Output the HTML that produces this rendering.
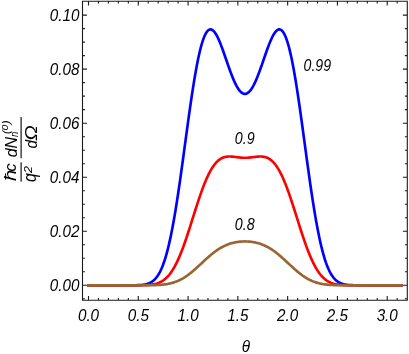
<!DOCTYPE html><html><head><meta charset="utf-8"><style>html,body{margin:0;padding:0;background:#fff}svg{display:block;will-change:transform}text{font-family:"Liberation Sans",sans-serif;font-style:italic;fill:#000}</style></head><body>
<svg width="409" height="354" viewBox="0 0 409 354">
<rect width="409" height="354" fill="#fff"/>
<path d="M88.51,285.30 L89.29,285.30 L90.08,285.30 L90.86,285.30 L91.65,285.30 L92.43,285.30 L93.21,285.30 L94.00,285.30 L94.78,285.30 L95.57,285.30 L96.35,285.30 L97.13,285.30 L97.92,285.30 L98.70,285.30 L99.48,285.30 L100.27,285.30 L101.05,285.30 L101.84,285.30 L102.62,285.30 L103.40,285.30 L104.19,285.30 L104.97,285.30 L105.76,285.30 L106.54,285.30 L107.32,285.30 L108.11,285.30 L108.89,285.30 L109.68,285.30 L110.46,285.30 L111.24,285.30 L112.03,285.30 L112.81,285.30 L113.60,285.30 L114.38,285.30 L115.16,285.30 L115.95,285.30 L116.73,285.30 L117.52,285.30 L118.30,285.30 L119.08,285.30 L119.87,285.30 L120.65,285.30 L121.44,285.30 L122.22,285.30 L123.00,285.30 L123.79,285.30 L124.57,285.30 L125.35,285.30 L126.14,285.30 L126.92,285.30 L127.71,285.30 L128.49,285.29 L129.27,285.29 L130.06,285.29 L130.84,285.29 L131.63,285.28 L132.41,285.27 L133.19,285.27 L133.98,285.26 L134.76,285.24 L135.55,285.23 L136.33,285.21 L137.11,285.19 L137.90,285.16 L138.68,285.12 L139.47,285.08 L140.25,285.03 L141.03,284.97 L141.82,284.90 L142.60,284.81 L143.39,284.70 L144.17,284.58 L144.95,284.44 L145.74,284.27 L146.52,284.08 L147.30,283.85 L148.09,283.59 L148.87,283.29 L149.66,282.95 L150.44,282.56 L151.22,282.12 L152.01,281.62 L152.79,281.05 L153.58,280.42 L154.36,279.70 L155.14,278.91 L155.93,278.03 L156.71,277.05 L157.50,275.97 L158.28,274.78 L159.06,273.47 L159.85,272.04 L160.63,270.48 L161.42,268.79 L162.20,266.95 L162.98,264.97 L163.77,262.83 L164.55,260.53 L165.34,258.06 L166.12,255.43 L166.90,252.63 L167.69,249.65 L168.47,246.50 L169.25,243.16 L170.04,239.65 L170.82,235.96 L171.61,232.09 L172.39,228.04 L173.17,223.83 L173.96,219.44 L174.74,214.89 L175.53,210.19 L176.31,205.33 L177.09,200.33 L177.88,195.20 L178.66,189.94 L179.45,184.57 L180.23,179.10 L181.01,173.55 L181.80,167.91 L182.58,162.21 L183.37,156.47 L184.15,150.69 L184.93,144.90 L185.72,139.10 L186.50,133.31 L187.29,127.55 L188.07,121.84 L188.85,116.19 L189.64,110.61 L190.42,105.12 L191.20,99.74 L191.99,94.48 L192.77,89.36 L193.56,84.38 L194.34,79.57 L195.12,74.93 L195.91,70.47 L196.69,66.21 L197.48,62.16 L198.26,58.32 L199.04,54.70 L199.83,51.31 L200.61,48.16 L201.40,45.25 L202.18,42.58 L202.96,40.15 L203.75,37.98 L204.53,36.05 L205.32,34.38 L206.10,32.95 L206.88,31.77 L207.67,30.82 L208.45,30.12 L209.24,29.65 L210.02,29.41 L210.80,29.39 L211.59,29.58 L212.37,29.98 L213.15,30.57 L213.94,31.35 L214.72,32.31 L215.51,33.44 L216.29,34.73 L217.07,36.16 L217.86,37.72 L218.64,39.42 L219.43,41.22 L220.21,43.12 L220.99,45.12 L221.78,47.18 L222.56,49.32 L223.35,51.50 L224.13,53.73 L224.91,55.98 L225.70,58.26 L226.48,60.54 L227.27,62.81 L228.05,65.07 L228.83,67.31 L229.62,69.50 L230.40,71.65 L231.19,73.75 L231.97,75.78 L232.75,77.74 L233.54,79.61 L234.32,81.40 L235.11,83.09 L235.89,84.68 L236.67,86.16 L237.46,87.52 L238.24,88.76 L239.02,89.87 L239.81,90.86 L240.59,91.71 L241.38,92.43 L242.16,93.00 L242.94,93.43 L243.73,93.72 L244.51,93.87 L245.30,93.87 L246.08,93.72 L246.86,93.43 L247.65,93.00 L248.43,92.43 L249.22,91.71 L250.00,90.86 L250.78,89.87 L251.57,88.76 L252.35,87.52 L253.14,86.16 L253.92,84.68 L254.70,83.09 L255.49,81.40 L256.27,79.61 L257.06,77.74 L257.84,75.78 L258.62,73.75 L259.41,71.65 L260.19,69.50 L260.97,67.31 L261.76,65.07 L262.54,62.81 L263.33,60.54 L264.11,58.26 L264.89,55.98 L265.68,53.73 L266.46,51.50 L267.25,49.32 L268.03,47.18 L268.81,45.12 L269.60,43.12 L270.38,41.22 L271.17,39.42 L271.95,37.72 L272.73,36.16 L273.52,34.73 L274.30,33.44 L275.09,32.31 L275.87,31.35 L276.65,30.57 L277.44,29.98 L278.22,29.58 L279.01,29.39 L279.79,29.41 L280.57,29.65 L281.36,30.12 L282.14,30.82 L282.92,31.77 L283.71,32.95 L284.49,34.38 L285.28,36.05 L286.06,37.98 L286.84,40.15 L287.63,42.58 L288.41,45.25 L289.20,48.16 L289.98,51.31 L290.76,54.70 L291.55,58.32 L292.33,62.16 L293.12,66.21 L293.90,70.47 L294.68,74.93 L295.47,79.57 L296.25,84.38 L297.04,89.36 L297.82,94.48 L298.60,99.74 L299.39,105.12 L300.17,110.61 L300.96,116.19 L301.74,121.84 L302.52,127.55 L303.31,133.31 L304.09,139.10 L304.87,144.90 L305.66,150.69 L306.44,156.47 L307.23,162.21 L308.01,167.91 L308.79,173.55 L309.58,179.10 L310.36,184.57 L311.15,189.94 L311.93,195.20 L312.71,200.33 L313.50,205.33 L314.28,210.19 L315.07,214.89 L315.85,219.44 L316.63,223.83 L317.42,228.04 L318.20,232.09 L318.99,235.96 L319.77,239.65 L320.55,243.16 L321.34,246.50 L322.12,249.65 L322.91,252.63 L323.69,255.43 L324.47,258.06 L325.26,260.53 L326.04,262.83 L326.82,264.97 L327.61,266.95 L328.39,268.79 L329.18,270.48 L329.96,272.04 L330.74,273.47 L331.53,274.78 L332.31,275.97 L333.10,277.05 L333.88,278.03 L334.66,278.91 L335.45,279.70 L336.23,280.42 L337.02,281.05 L337.80,281.62 L338.58,282.12 L339.37,282.56 L340.15,282.95 L340.94,283.29 L341.72,283.59 L342.50,283.85 L343.29,284.08 L344.07,284.27 L344.86,284.44 L345.64,284.58 L346.42,284.70 L347.21,284.81 L347.99,284.90 L348.78,284.97 L349.56,285.03 L350.34,285.08 L351.13,285.12 L351.91,285.16 L352.69,285.19 L353.48,285.21 L354.26,285.23 L355.05,285.24 L355.83,285.26 L356.61,285.27 L357.40,285.27 L358.18,285.28 L358.97,285.29 L359.75,285.29 L360.53,285.29 L361.32,285.29 L362.10,285.30 L362.89,285.30 L363.67,285.30 L364.45,285.30 L365.24,285.30 L366.02,285.30 L366.81,285.30 L367.59,285.30 L368.37,285.30 L369.16,285.30 L369.94,285.30 L370.73,285.30 L371.51,285.30 L372.29,285.30 L373.08,285.30 L373.86,285.30 L374.64,285.30 L375.43,285.30 L376.21,285.30 L377.00,285.30 L377.78,285.30 L378.56,285.30 L379.35,285.30 L380.13,285.30 L380.92,285.30 L381.70,285.30 L382.48,285.30 L383.27,285.30 L384.05,285.30 L384.84,285.30 L385.62,285.30 L386.40,285.30 L387.19,285.30 L387.97,285.30 L388.76,285.30 L389.54,285.30 L390.32,285.30 L391.11,285.30 L391.89,285.30 L392.68,285.30 L393.46,285.30 L394.24,285.30 L395.03,285.30 L395.81,285.30 L396.59,285.30 L397.38,285.30 L398.16,285.30 L398.95,285.30 L399.73,285.30 L400.51,285.30 L401.30,285.30" fill="none" stroke="#0000ff" stroke-width="2.65" stroke-linecap="square" stroke-linejoin="round"/>
<path d="M88.51,285.30 L89.29,285.30 L90.08,285.30 L90.86,285.30 L91.65,285.30 L92.43,285.30 L93.21,285.30 L94.00,285.30 L94.78,285.30 L95.57,285.30 L96.35,285.30 L97.13,285.30 L97.92,285.30 L98.70,285.30 L99.48,285.30 L100.27,285.30 L101.05,285.30 L101.84,285.30 L102.62,285.30 L103.40,285.30 L104.19,285.30 L104.97,285.30 L105.76,285.30 L106.54,285.30 L107.32,285.30 L108.11,285.30 L108.89,285.30 L109.68,285.30 L110.46,285.30 L111.24,285.30 L112.03,285.30 L112.81,285.30 L113.60,285.30 L114.38,285.30 L115.16,285.30 L115.95,285.30 L116.73,285.30 L117.52,285.30 L118.30,285.30 L119.08,285.30 L119.87,285.30 L120.65,285.30 L121.44,285.30 L122.22,285.30 L123.00,285.30 L123.79,285.30 L124.57,285.30 L125.35,285.30 L126.14,285.30 L126.92,285.30 L127.71,285.30 L128.49,285.30 L129.27,285.30 L130.06,285.30 L130.84,285.30 L131.63,285.30 L132.41,285.30 L133.19,285.29 L133.98,285.29 L134.76,285.29 L135.55,285.29 L136.33,285.28 L137.11,285.28 L137.90,285.27 L138.68,285.27 L139.47,285.26 L140.25,285.25 L141.03,285.24 L141.82,285.22 L142.60,285.21 L143.39,285.19 L144.17,285.16 L144.95,285.13 L145.74,285.10 L146.52,285.06 L147.30,285.01 L148.09,284.96 L148.87,284.90 L149.66,284.82 L150.44,284.74 L151.22,284.65 L152.01,284.54 L152.79,284.41 L153.58,284.27 L154.36,284.11 L155.14,283.93 L155.93,283.73 L156.71,283.51 L157.50,283.25 L158.28,282.97 L159.06,282.66 L159.85,282.32 L160.63,281.94 L161.42,281.52 L162.20,281.06 L162.98,280.56 L163.77,280.02 L164.55,279.43 L165.34,278.78 L166.12,278.09 L166.90,277.34 L167.69,276.53 L168.47,275.66 L169.25,274.74 L170.04,273.75 L170.82,272.69 L171.61,271.57 L172.39,270.38 L173.17,269.13 L173.96,267.80 L174.74,266.41 L175.53,264.94 L176.31,263.41 L177.09,261.80 L177.88,260.13 L178.66,258.39 L179.45,256.58 L180.23,254.71 L181.01,252.77 L181.80,250.77 L182.58,248.71 L183.37,246.60 L184.15,244.43 L184.93,242.21 L185.72,239.95 L186.50,237.64 L187.29,235.29 L188.07,232.91 L188.85,230.50 L189.64,228.07 L190.42,225.61 L191.20,223.14 L191.99,220.66 L192.77,218.17 L193.56,215.69 L194.34,213.20 L195.12,210.73 L195.91,208.27 L196.69,205.83 L197.48,203.42 L198.26,201.04 L199.04,198.69 L199.83,196.38 L200.61,194.12 L201.40,191.90 L202.18,189.73 L202.96,187.62 L203.75,185.57 L204.53,183.58 L205.32,181.65 L206.10,179.80 L206.88,178.01 L207.67,176.29 L208.45,174.65 L209.24,173.08 L210.02,171.59 L210.80,170.18 L211.59,168.84 L212.37,167.58 L213.15,166.40 L213.94,165.29 L214.72,164.26 L215.51,163.30 L216.29,162.42 L217.07,161.61 L217.86,160.87 L218.64,160.20 L219.43,159.60 L220.21,159.06 L220.99,158.58 L221.78,158.16 L222.56,157.80 L223.35,157.49 L224.13,157.22 L224.91,157.01 L225.70,156.84 L226.48,156.70 L227.27,156.61 L228.05,156.55 L228.83,156.51 L229.62,156.51 L230.40,156.53 L231.19,156.57 L231.97,156.62 L232.75,156.69 L233.54,156.77 L234.32,156.86 L235.11,156.96 L235.89,157.05 L236.67,157.15 L237.46,157.25 L238.24,157.34 L239.02,157.43 L239.81,157.51 L240.59,157.59 L241.38,157.65 L242.16,157.70 L242.94,157.74 L243.73,157.76 L244.51,157.78 L245.30,157.78 L246.08,157.76 L246.86,157.74 L247.65,157.70 L248.43,157.65 L249.22,157.59 L250.00,157.51 L250.78,157.43 L251.57,157.34 L252.35,157.25 L253.14,157.15 L253.92,157.05 L254.70,156.96 L255.49,156.86 L256.27,156.77 L257.06,156.69 L257.84,156.62 L258.62,156.57 L259.41,156.53 L260.19,156.51 L260.97,156.51 L261.76,156.55 L262.54,156.61 L263.33,156.70 L264.11,156.84 L264.89,157.01 L265.68,157.22 L266.46,157.49 L267.25,157.80 L268.03,158.16 L268.81,158.58 L269.60,159.06 L270.38,159.60 L271.17,160.20 L271.95,160.87 L272.73,161.61 L273.52,162.42 L274.30,163.30 L275.09,164.26 L275.87,165.29 L276.65,166.40 L277.44,167.58 L278.22,168.84 L279.01,170.18 L279.79,171.59 L280.57,173.08 L281.36,174.65 L282.14,176.29 L282.92,178.01 L283.71,179.80 L284.49,181.65 L285.28,183.58 L286.06,185.57 L286.84,187.62 L287.63,189.73 L288.41,191.90 L289.20,194.12 L289.98,196.38 L290.76,198.69 L291.55,201.04 L292.33,203.42 L293.12,205.83 L293.90,208.27 L294.68,210.73 L295.47,213.20 L296.25,215.69 L297.04,218.17 L297.82,220.66 L298.60,223.14 L299.39,225.61 L300.17,228.07 L300.96,230.50 L301.74,232.91 L302.52,235.29 L303.31,237.64 L304.09,239.95 L304.87,242.21 L305.66,244.43 L306.44,246.60 L307.23,248.71 L308.01,250.77 L308.79,252.77 L309.58,254.71 L310.36,256.58 L311.15,258.39 L311.93,260.13 L312.71,261.80 L313.50,263.41 L314.28,264.94 L315.07,266.41 L315.85,267.80 L316.63,269.13 L317.42,270.38 L318.20,271.57 L318.99,272.69 L319.77,273.75 L320.55,274.74 L321.34,275.66 L322.12,276.53 L322.91,277.34 L323.69,278.09 L324.47,278.78 L325.26,279.43 L326.04,280.02 L326.82,280.56 L327.61,281.06 L328.39,281.52 L329.18,281.94 L329.96,282.32 L330.74,282.66 L331.53,282.97 L332.31,283.25 L333.10,283.51 L333.88,283.73 L334.66,283.93 L335.45,284.11 L336.23,284.27 L337.02,284.41 L337.80,284.54 L338.58,284.65 L339.37,284.74 L340.15,284.82 L340.94,284.90 L341.72,284.96 L342.50,285.01 L343.29,285.06 L344.07,285.10 L344.86,285.13 L345.64,285.16 L346.42,285.19 L347.21,285.21 L347.99,285.22 L348.78,285.24 L349.56,285.25 L350.34,285.26 L351.13,285.27 L351.91,285.27 L352.69,285.28 L353.48,285.28 L354.26,285.29 L355.05,285.29 L355.83,285.29 L356.61,285.29 L357.40,285.30 L358.18,285.30 L358.97,285.30 L359.75,285.30 L360.53,285.30 L361.32,285.30 L362.10,285.30 L362.89,285.30 L363.67,285.30 L364.45,285.30 L365.24,285.30 L366.02,285.30 L366.81,285.30 L367.59,285.30 L368.37,285.30 L369.16,285.30 L369.94,285.30 L370.73,285.30 L371.51,285.30 L372.29,285.30 L373.08,285.30 L373.86,285.30 L374.64,285.30 L375.43,285.30 L376.21,285.30 L377.00,285.30 L377.78,285.30 L378.56,285.30 L379.35,285.30 L380.13,285.30 L380.92,285.30 L381.70,285.30 L382.48,285.30 L383.27,285.30 L384.05,285.30 L384.84,285.30 L385.62,285.30 L386.40,285.30 L387.19,285.30 L387.97,285.30 L388.76,285.30 L389.54,285.30 L390.32,285.30 L391.11,285.30 L391.89,285.30 L392.68,285.30 L393.46,285.30 L394.24,285.30 L395.03,285.30 L395.81,285.30 L396.59,285.30 L397.38,285.30 L398.16,285.30 L398.95,285.30 L399.73,285.30 L400.51,285.30 L401.30,285.30" fill="none" stroke="#ff0000" stroke-width="2.65" stroke-linecap="square" stroke-linejoin="round"/>
<path d="M88.51,285.30 L89.29,285.30 L90.08,285.30 L90.86,285.30 L91.65,285.30 L92.43,285.30 L93.21,285.30 L94.00,285.30 L94.78,285.30 L95.57,285.30 L96.35,285.30 L97.13,285.30 L97.92,285.30 L98.70,285.30 L99.48,285.30 L100.27,285.30 L101.05,285.30 L101.84,285.30 L102.62,285.30 L103.40,285.30 L104.19,285.30 L104.97,285.30 L105.76,285.30 L106.54,285.30 L107.32,285.30 L108.11,285.30 L108.89,285.30 L109.68,285.30 L110.46,285.30 L111.24,285.30 L112.03,285.30 L112.81,285.30 L113.60,285.30 L114.38,285.30 L115.16,285.30 L115.95,285.30 L116.73,285.30 L117.52,285.30 L118.30,285.30 L119.08,285.30 L119.87,285.30 L120.65,285.30 L121.44,285.30 L122.22,285.30 L123.00,285.30 L123.79,285.30 L124.57,285.30 L125.35,285.30 L126.14,285.30 L126.92,285.30 L127.71,285.30 L128.49,285.30 L129.27,285.30 L130.06,285.30 L130.84,285.30 L131.63,285.30 L132.41,285.30 L133.19,285.30 L133.98,285.30 L134.76,285.30 L135.55,285.30 L136.33,285.30 L137.11,285.30 L137.90,285.30 L138.68,285.30 L139.47,285.30 L140.25,285.29 L141.03,285.29 L141.82,285.29 L142.60,285.29 L143.39,285.29 L144.17,285.28 L144.95,285.28 L145.74,285.28 L146.52,285.27 L147.30,285.26 L148.09,285.26 L148.87,285.25 L149.66,285.24 L150.44,285.23 L151.22,285.21 L152.01,285.20 L152.79,285.18 L153.58,285.16 L154.36,285.14 L155.14,285.11 L155.93,285.09 L156.71,285.05 L157.50,285.02 L158.28,284.97 L159.06,284.93 L159.85,284.88 L160.63,284.82 L161.42,284.75 L162.20,284.68 L162.98,284.60 L163.77,284.52 L164.55,284.42 L165.34,284.32 L166.12,284.20 L166.90,284.08 L167.69,283.94 L168.47,283.79 L169.25,283.63 L170.04,283.46 L170.82,283.28 L171.61,283.08 L172.39,282.86 L173.17,282.63 L173.96,282.39 L174.74,282.12 L175.53,281.85 L176.31,281.55 L177.09,281.24 L177.88,280.91 L178.66,280.56 L179.45,280.19 L180.23,279.81 L181.01,279.40 L181.80,278.98 L182.58,278.54 L183.37,278.08 L184.15,277.60 L184.93,277.10 L185.72,276.59 L186.50,276.06 L187.29,275.51 L188.07,274.94 L188.85,274.36 L189.64,273.76 L190.42,273.14 L191.20,272.51 L191.99,271.87 L192.77,271.21 L193.56,270.55 L194.34,269.87 L195.12,269.18 L195.91,268.48 L196.69,267.78 L197.48,267.06 L198.26,266.34 L199.04,265.62 L199.83,264.89 L200.61,264.16 L201.40,263.43 L202.18,262.70 L202.96,261.97 L203.75,261.24 L204.53,260.52 L205.32,259.80 L206.10,259.09 L206.88,258.38 L207.67,257.68 L208.45,256.99 L209.24,256.31 L210.02,255.63 L210.80,254.97 L211.59,254.33 L212.37,253.69 L213.15,253.07 L213.94,252.46 L214.72,251.87 L215.51,251.29 L216.29,250.73 L217.07,250.19 L217.86,249.66 L218.64,249.15 L219.43,248.66 L220.21,248.18 L220.99,247.72 L221.78,247.28 L222.56,246.86 L223.35,246.45 L224.13,246.07 L224.91,245.70 L225.70,245.34 L226.48,245.01 L227.27,244.69 L228.05,244.39 L228.83,244.10 L229.62,243.83 L230.40,243.58 L231.19,243.34 L231.97,243.12 L232.75,242.92 L233.54,242.73 L234.32,242.55 L235.11,242.39 L235.89,242.24 L236.67,242.10 L237.46,241.98 L238.24,241.87 L239.02,241.77 L239.81,241.69 L240.59,241.62 L241.38,241.56 L242.16,241.51 L242.94,241.48 L243.73,241.45 L244.51,241.44 L245.30,241.44 L246.08,241.45 L246.86,241.48 L247.65,241.51 L248.43,241.56 L249.22,241.62 L250.00,241.69 L250.78,241.77 L251.57,241.87 L252.35,241.98 L253.14,242.10 L253.92,242.24 L254.70,242.39 L255.49,242.55 L256.27,242.73 L257.06,242.92 L257.84,243.12 L258.62,243.34 L259.41,243.58 L260.19,243.83 L260.97,244.10 L261.76,244.39 L262.54,244.69 L263.33,245.01 L264.11,245.34 L264.89,245.70 L265.68,246.07 L266.46,246.45 L267.25,246.86 L268.03,247.28 L268.81,247.72 L269.60,248.18 L270.38,248.66 L271.17,249.15 L271.95,249.66 L272.73,250.19 L273.52,250.73 L274.30,251.29 L275.09,251.87 L275.87,252.46 L276.65,253.07 L277.44,253.69 L278.22,254.33 L279.01,254.97 L279.79,255.63 L280.57,256.31 L281.36,256.99 L282.14,257.68 L282.92,258.38 L283.71,259.09 L284.49,259.80 L285.28,260.52 L286.06,261.24 L286.84,261.97 L287.63,262.70 L288.41,263.43 L289.20,264.16 L289.98,264.89 L290.76,265.62 L291.55,266.34 L292.33,267.06 L293.12,267.78 L293.90,268.48 L294.68,269.18 L295.47,269.87 L296.25,270.55 L297.04,271.21 L297.82,271.87 L298.60,272.51 L299.39,273.14 L300.17,273.76 L300.96,274.36 L301.74,274.94 L302.52,275.51 L303.31,276.06 L304.09,276.59 L304.87,277.10 L305.66,277.60 L306.44,278.08 L307.23,278.54 L308.01,278.98 L308.79,279.40 L309.58,279.81 L310.36,280.19 L311.15,280.56 L311.93,280.91 L312.71,281.24 L313.50,281.55 L314.28,281.85 L315.07,282.12 L315.85,282.39 L316.63,282.63 L317.42,282.86 L318.20,283.08 L318.99,283.28 L319.77,283.46 L320.55,283.63 L321.34,283.79 L322.12,283.94 L322.91,284.08 L323.69,284.20 L324.47,284.32 L325.26,284.42 L326.04,284.52 L326.82,284.60 L327.61,284.68 L328.39,284.75 L329.18,284.82 L329.96,284.88 L330.74,284.93 L331.53,284.97 L332.31,285.02 L333.10,285.05 L333.88,285.09 L334.66,285.11 L335.45,285.14 L336.23,285.16 L337.02,285.18 L337.80,285.20 L338.58,285.21 L339.37,285.23 L340.15,285.24 L340.94,285.25 L341.72,285.26 L342.50,285.26 L343.29,285.27 L344.07,285.28 L344.86,285.28 L345.64,285.28 L346.42,285.29 L347.21,285.29 L347.99,285.29 L348.78,285.29 L349.56,285.29 L350.34,285.30 L351.13,285.30 L351.91,285.30 L352.69,285.30 L353.48,285.30 L354.26,285.30 L355.05,285.30 L355.83,285.30 L356.61,285.30 L357.40,285.30 L358.18,285.30 L358.97,285.30 L359.75,285.30 L360.53,285.30 L361.32,285.30 L362.10,285.30 L362.89,285.30 L363.67,285.30 L364.45,285.30 L365.24,285.30 L366.02,285.30 L366.81,285.30 L367.59,285.30 L368.37,285.30 L369.16,285.30 L369.94,285.30 L370.73,285.30 L371.51,285.30 L372.29,285.30 L373.08,285.30 L373.86,285.30 L374.64,285.30 L375.43,285.30 L376.21,285.30 L377.00,285.30 L377.78,285.30 L378.56,285.30 L379.35,285.30 L380.13,285.30 L380.92,285.30 L381.70,285.30 L382.48,285.30 L383.27,285.30 L384.05,285.30 L384.84,285.30 L385.62,285.30 L386.40,285.30 L387.19,285.30 L387.97,285.30 L388.76,285.30 L389.54,285.30 L390.32,285.30 L391.11,285.30 L391.89,285.30 L392.68,285.30 L393.46,285.30 L394.24,285.30 L395.03,285.30 L395.81,285.30 L396.59,285.30 L397.38,285.30 L398.16,285.30 L398.95,285.30 L399.73,285.30 L400.51,285.30 L401.30,285.30" fill="none" stroke="#996633" stroke-width="2.65" stroke-linecap="square" stroke-linejoin="round"/>
<path d="M82.50,1.20 H407.30 V300.30 H82.50 Z M88.50,300.30 v-4.40 M88.50,1.20 v4.40 M98.46,300.30 v-2.40 M98.46,1.20 v2.40 M108.41,300.30 v-2.40 M108.41,1.20 v2.40 M118.37,300.30 v-2.40 M118.37,1.20 v2.40 M128.33,300.30 v-2.40 M128.33,1.20 v2.40 M138.28,300.30 v-4.40 M138.28,1.20 v4.40 M148.24,300.30 v-2.40 M148.24,1.20 v2.40 M158.20,300.30 v-2.40 M158.20,1.20 v2.40 M168.16,300.30 v-2.40 M168.16,1.20 v2.40 M178.11,300.30 v-2.40 M178.11,1.20 v2.40 M188.07,300.30 v-4.40 M188.07,1.20 v4.40 M198.03,300.30 v-2.40 M198.03,1.20 v2.40 M207.98,300.30 v-2.40 M207.98,1.20 v2.40 M217.94,300.30 v-2.40 M217.94,1.20 v2.40 M227.90,300.30 v-2.40 M227.90,1.20 v2.40 M237.85,300.30 v-4.40 M237.85,1.20 v4.40 M247.81,300.30 v-2.40 M247.81,1.20 v2.40 M257.77,300.30 v-2.40 M257.77,1.20 v2.40 M267.73,300.30 v-2.40 M267.73,1.20 v2.40 M277.68,300.30 v-2.40 M277.68,1.20 v2.40 M287.64,300.30 v-4.40 M287.64,1.20 v4.40 M297.60,300.30 v-2.40 M297.60,1.20 v2.40 M307.55,300.30 v-2.40 M307.55,1.20 v2.40 M317.51,300.30 v-2.40 M317.51,1.20 v2.40 M327.47,300.30 v-2.40 M327.47,1.20 v2.40 M337.42,300.30 v-4.40 M337.42,1.20 v4.40 M347.38,300.30 v-2.40 M347.38,1.20 v2.40 M357.34,300.30 v-2.40 M357.34,1.20 v2.40 M367.30,300.30 v-2.40 M367.30,1.20 v2.40 M377.25,300.30 v-2.40 M377.25,1.20 v2.40 M387.21,300.30 v-4.40 M387.21,1.20 v4.40 M397.17,300.30 v-2.40 M397.17,1.20 v2.40 M82.50,298.81 h2.40 M407.30,298.81 h-2.40 M82.50,285.30 h4.40 M407.30,285.30 h-4.40 M82.50,271.79 h2.40 M407.30,271.79 h-2.40 M82.50,258.28 h2.40 M407.30,258.28 h-2.40 M82.50,244.77 h2.40 M407.30,244.77 h-2.40 M82.50,231.26 h4.40 M407.30,231.26 h-4.40 M82.50,217.75 h2.40 M407.30,217.75 h-2.40 M82.50,204.24 h2.40 M407.30,204.24 h-2.40 M82.50,190.73 h2.40 M407.30,190.73 h-2.40 M82.50,177.22 h4.40 M407.30,177.22 h-4.40 M82.50,163.71 h2.40 M407.30,163.71 h-2.40 M82.50,150.20 h2.40 M407.30,150.20 h-2.40 M82.50,136.69 h2.40 M407.30,136.69 h-2.40 M82.50,123.18 h4.40 M407.30,123.18 h-4.40 M82.50,109.67 h2.40 M407.30,109.67 h-2.40 M82.50,96.16 h2.40 M407.30,96.16 h-2.40 M82.50,82.65 h2.40 M407.30,82.65 h-2.40 M82.50,69.14 h4.40 M407.30,69.14 h-4.40 M82.50,55.63 h2.40 M407.30,55.63 h-2.40 M82.50,42.12 h2.40 M407.30,42.12 h-2.40 M82.50,28.61 h2.40 M407.30,28.61 h-2.40 M82.50,15.10 h4.40 M407.30,15.10 h-4.40" fill="none" stroke="#1a1a1a" stroke-width="1.1"/>
<text transform="translate(88.50,321.30) scale(0.875,1)" font-size="17.40" text-anchor="middle">0.0</text>
<text transform="translate(138.28,321.30) scale(0.875,1)" font-size="17.40" text-anchor="middle">0.5</text>
<text transform="translate(188.07,321.30) scale(0.875,1)" font-size="17.40" text-anchor="middle">1.0</text>
<text transform="translate(237.85,321.30) scale(0.875,1)" font-size="17.40" text-anchor="middle">1.5</text>
<text transform="translate(287.64,321.30) scale(0.875,1)" font-size="17.40" text-anchor="middle">2.0</text>
<text transform="translate(337.42,321.30) scale(0.875,1)" font-size="17.40" text-anchor="middle">2.5</text>
<text transform="translate(387.21,321.30) scale(0.875,1)" font-size="17.40" text-anchor="middle">3.0</text>
<text transform="translate(79.40,291.20) scale(0.875,1)" font-size="17.40" text-anchor="end">0.00</text>
<text transform="translate(79.40,237.16) scale(0.875,1)" font-size="17.40" text-anchor="end">0.02</text>
<text transform="translate(79.40,183.12) scale(0.875,1)" font-size="17.40" text-anchor="end">0.04</text>
<text transform="translate(79.40,129.08) scale(0.875,1)" font-size="17.40" text-anchor="end">0.06</text>
<text transform="translate(79.40,75.04) scale(0.875,1)" font-size="17.40" text-anchor="end">0.08</text>
<text transform="translate(79.40,21.00) scale(0.875,1)" font-size="17.40" text-anchor="end">0.10</text>
<text transform="translate(317.30,70.90) scale(0.840,1)" font-size="16.80" text-anchor="middle">0.99</text>
<text transform="translate(244.70,143.50) scale(0.840,1)" font-size="17.00" text-anchor="middle">0.9</text>
<text transform="translate(244.70,229.50) scale(0.840,1)" font-size="17.00" text-anchor="middle">0.8</text>
<text transform="translate(246.00,352.30) scale(0.900,1)" font-size="17.00" text-anchor="middle">θ</text>
<text transform="rotate(-90) translate(-181.00,15.90) scale(1.200,1)" font-size="17.00">ħ</text>
<text transform="rotate(-90) translate(-171.40,15.90) scale(0.950,1)" font-size="17.00">c</text>
<text transform="rotate(-90) translate(-181.90,36.40) scale(0.900,1)" font-size="17.50">q</text>
<text transform="rotate(-90) translate(-172.90,32.00) scale(1.250,1)" font-size="10.00">2</text>
<text transform="rotate(-90) translate(-157.30,17.00) scale(0.940,1)" font-size="17.00">dN</text>
<text transform="rotate(-90) translate(-137.00,18.40) scale(0.950,1)" font-size="10.00">n</text>
<text transform="rotate(-90) translate(-134.00,9.60) scale(1.000,1)" font-size="11.50">(</text>
<text transform="rotate(-90) translate(-130.40,8.20) scale(1.100,1)" font-size="9.50">0</text>
<text transform="rotate(-90) translate(-124.30,9.60) scale(1.000,1)" font-size="11.50">)</text>
<text transform="rotate(-90) translate(-148.50,36.70) scale(0.900,1)" font-size="17.00">d</text>
<text transform="rotate(-90) translate(-140.80,36.70) scale(1.200,1)" font-size="17.00">Ω</text>
<path d="M21.1,181.8 V162.2 M21.1,158.3 V116.9" stroke="#000" stroke-width="1.1" fill="none"/>
</svg></body></html>
